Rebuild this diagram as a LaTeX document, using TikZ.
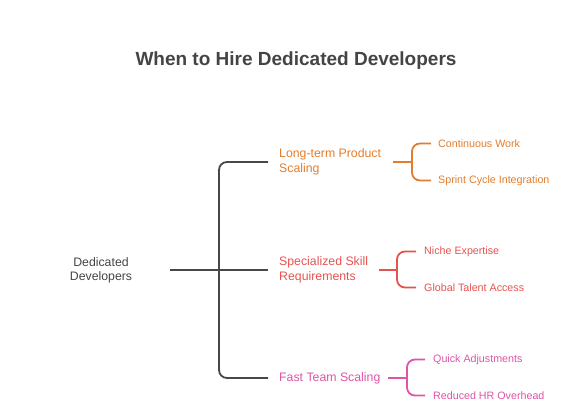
\documentclass[tikz,border=0pt]{standalone}
\usepackage{fontspec}
\setmainfont{Liberation Sans}
\usepackage{tikz}
\usetikzlibrary{positioning}
\definecolor{titlegray}{RGB}{68,68,68}
\definecolor{linegray}{RGB}{72,72,72}
\definecolor{orangebr}{RGB}{226,125,45}
\definecolor{redbr}{RGB}{229,83,80}
\definecolor{pinkbr}{RGB}{222,84,166}

\begin{document}
\begin{tikzpicture}[
			x=1pt, y=-1pt,
			branch/.style={anchor=west, align=left, inner sep=0pt, font=\fontsize{12.3}{14.5}\selectfont},
			leaf/.style={anchor=west, inner sep=0pt, font=\fontsize{10.7}{13}\selectfont},
			link/.style={line width=1.8pt, rounded corners=8pt}
		]
		\useasboundingbox (0,0) rectangle (586,420);

		\node[font=\bfseries\fontsize{19}{22}\selectfont, text=titlegray] (title) at (296,61) {When to Hire Dedicated Developers};
		\node[align=center, inner sep=0pt, font=\fontsize{12.3}{14.5}\selectfont, text=titlegray] (root) at (101,270.5) {Dedicated\\Developers};

		\node[branch, text=orangebr] (product) at (279,162) {Long-term Product\\Scaling};
		\node[branch, text=redbr] (skill) at (279,270) {Specialized Skill\\Requirements};
		\node[branch, text=pinkbr] (fast) at (279,378) {Fast Team Scaling};

		\node[leaf, text=orangebr] (continuous) at (438,143.5) {Continuous Work};
		\node[leaf, text=orangebr] (sprint) at (438,180.5) {Sprint Cycle Integration};
		\node[leaf, text=redbr] (niche) at (424,251.5) {Niche Expertise};
		\node[leaf, text=redbr] (talent) at (424,287.5) {Global Talent Access};
		\node[leaf, text=pinkbr] (quick) at (433,359.5) {Quick Adjustments};
		\node[leaf, text=pinkbr] (overhead) at (433,395.5) {Reduced HR Overhead};

		\coordinate (rootend) at (170,270);
		\coordinate (hub) at (219,270);
		\coordinate (productin) at (393,162);
		\coordinate (productfork) at (412,162);
		\coordinate (skillin) at (379,270);
		\coordinate (skillfork) at (397,270);
		\coordinate (fastin) at (388,378);
		\coordinate (fastfork) at (407,378);

		\draw[link, linegray] (rootend) -- ([xshift=-11pt]skill.west);
		\draw[link, linegray] ([xshift=-11pt]product.west) -| (hub) |- ([xshift=-11pt]fast.west);

		\draw[link, orangebr] (productin) -- (productfork);
		\draw[link, orangebr] ([xshift=-7pt]continuous.west) -| (productfork) |- ([xshift=-7pt]sprint.west);
		\draw[link, redbr] (skillin) -- (skillfork);
		\draw[link, redbr] ([xshift=-8pt]niche.west) -| (skillfork) |- ([xshift=-8pt]talent.west);
		\draw[link, pinkbr] (fastin) -- (fastfork);
		\draw[link, pinkbr] ([xshift=-8pt]quick.west) -| (fastfork) |- ([xshift=-8pt]overhead.west);

	\end{tikzpicture}
\end{document}
